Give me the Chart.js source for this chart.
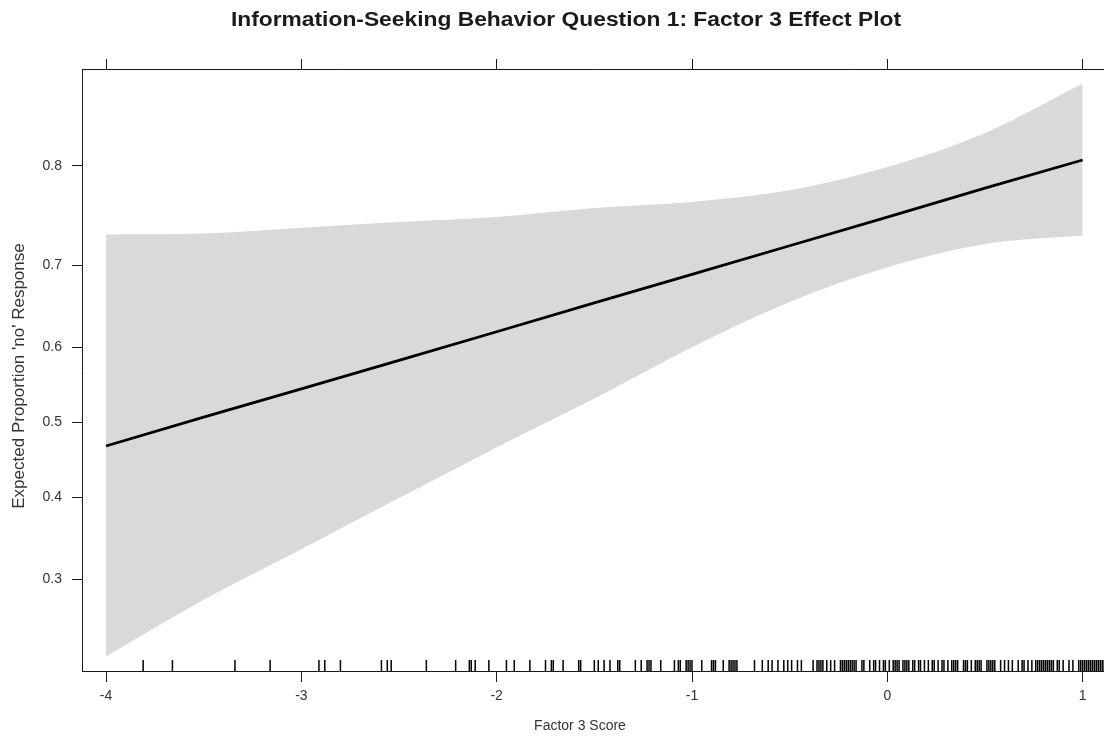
<!DOCTYPE html>
<html>
<head>
<meta charset="utf-8">
<title>Factor 3 Effect Plot</title>
<script src="https://cdn.jsdelivr.net/npm/chart.js@4.4.1/dist/chart.umd.min.js"></script>
<style>
  html, body { margin: 0; padding: 0; background: #fff; overflow: hidden; }
  #wrap { position: relative; width: 1120px; height: 742px; }
</style>
</head>
<body>
<div id="wrap"><canvas id="chart" width="1120" height="742"></canvas></div>
<script>
// Fitted effect of the factor 3 score (probability of a 'no' response)
const fitX     = [-4, -3.5, -3, -2.5, -2, -1.5, -1, -0.5, 0, 0.5, 1];
const fitProb  = [0.468, 0.507, 0.545, 0.583, 0.620, 0.656, 0.690, 0.722, 0.752, 0.780, 0.805];
// 95% confidence band
const bandUpper = [0.734, 0.735, 0.741, 0.747, 0.752, 0.761, 0.767, 0.778, 0.799, 0.827, 0.862];
const bandLower = [0.220, 0.277, 0.335, 0.399, 0.466, 0.532, 0.600, 0.657, 0.698, 0.724, 0.733];

// Observed factor 3 scores (rug)
const rugScores = [
  -3.81, -3.66, -3.34, -3.16, -2.91, -2.88, -2.80,
  -2.59, -2.56, -2.54, -2.36, -2.21, -2.14, -2.13, -2.11, -2.04, -1.95, -1.91, -1.83,
  -1.75, -1.72, -1.71, -1.66, -1.58, -1.57, -1.50, -1.48, -1.45, -1.42, -1.38, -1.37,
  -1.29, -1.26, -1.23, -1.22, -1.21, -1.16, -1.09, -1.07, -1.06, -1.03, -1.02, -1.01, -1.00,
  -0.95, -0.90, -0.89, -0.88, -0.84, -0.81, -0.80, -0.79, -0.78, -0.77,
  -0.68, -0.64, -0.61, -0.59, -0.56, -0.53, -0.51, -0.49, -0.46, -0.44,
  -0.38, -0.36, -0.35, -0.34, -0.33, -0.31, -0.29, -0.27, -0.24,
  -0.23, -0.22, -0.21, -0.20, -0.19, -0.18, -0.17, -0.16, -0.13, -0.12,
  -0.09, -0.07, -0.06, -0.04, -0.02, -0.01,
  0.01, 0.03, 0.04, 0.05, 0.06, 0.08, 0.09, 0.10, 0.11, 0.13, 0.14,
  0.16, 0.17, 0.19, 0.21, 0.23, 0.24, 0.26, 0.28, 0.29, 0.31, 0.33, 0.34, 0.35, 0.36,
  0.39, 0.40, 0.41, 0.43, 0.45, 0.46, 0.47, 0.48, 0.51, 0.52, 0.53, 0.54, 0.55,
  0.58, 0.60, 0.62, 0.64, 0.67, 0.69, 0.70, 0.72, 0.74,
  0.76, 0.77, 0.78, 0.79, 0.80, 0.81, 0.82, 0.83, 0.84, 0.85,
  0.87, 0.88, 0.90, 0.93, 0.95, 0.98, 0.99, 1.00, 1.01, 1.02, 1.03, 1.04,
  1.05, 1.06, 1.07, 1.08, 1.09, 1.10, 1.11
];

// Axis ticks and ranges
const xTicks = [-4, -3, -2, -1, 0, 1];
const xRange = [-4.123, 1.14];
const yTicks = [0.3, 0.4, 0.5, 0.6, 0.7, 0.8];
const yRange = [0.2068, 0.871];

const titleText  = 'Information-Seeking Behavior Question 1: Factor 3 Effect Plot';
const xAxisTitle = 'Factor 3 Score';
const yAxisTitle = "Expected Proportion 'no' Response";

// The response axis is drawn on the logit scale
const logit = p => Math.log(p / (1 - p));
const invLogit = v => 1 / (1 + Math.exp(-v));

const toPoints = (xs, ps) => xs.map((x, i) => ({ x: x, y: logit(ps[i]) }));

const FONT = "'Liberation Sans', Arial, sans-serif";
const INK = '#1a1a1a';

const rugPlugin = {
  id: 'rug',
  afterDatasetsDraw(chart) {
    const { ctx, chartArea, scales } = chart;
    ctx.save();
    ctx.strokeStyle = '#000';
    ctx.lineWidth = 1.5;
    ctx.beginPath();
    rugScores.forEach(v => {
      const px = scales.x.getPixelForValue(v);
      ctx.moveTo(px, chartArea.bottom);
      ctx.lineTo(px, chartArea.bottom - 11);
    });
    ctx.stroke();
    ctx.restore();
  }
};

const titlesPlugin = {
  id: 'titles',
  afterDraw(chart) {
    const { ctx } = chart;
    ctx.save();
    ctx.fillStyle = INK;
    ctx.textAlign = 'center';
    ctx.textBaseline = 'middle';
    // main title, set slightly wide
    ctx.save();
    ctx.font = 'bold 20px ' + FONT;
    ctx.translate(566, 20);
    ctx.scale(1.14, 1);
    ctx.fillText(titleText, 0, 0);
    ctx.restore();
    ctx.fillStyle = '#333';
    ctx.font = '14px ' + FONT;
    ctx.fillText(xAxisTitle, 580, 726);
    ctx.font = '17px ' + FONT;
    ctx.translate(19, 376);
    ctx.rotate(-Math.PI / 2);
    ctx.fillText(yAxisTitle, 0, 0);
    ctx.restore();
  }
};

new Chart(document.getElementById('chart'), {
  type: 'line',
  data: {
    datasets: [
      {
        label: 'fit',
        data: toPoints(fitX, fitProb),
        borderColor: '#000',
        borderWidth: 2.8,
        pointRadius: 0,
        fill: false,
        tension: 0
      },
      {
        label: 'upper',
        data: toPoints(fitX, bandUpper),
        borderWidth: 0,
        borderColor: 'rgba(0,0,0,0)',
        backgroundColor: '#d9d9d9',
        pointRadius: 0,
        fill: '+1',
        cubicInterpolationMode: 'monotone'
      },
      {
        label: 'lower',
        data: toPoints(fitX, bandLower),
        borderWidth: 0,
        borderColor: 'rgba(0,0,0,0)',
        pointRadius: 0,
        fill: false,
        cubicInterpolationMode: 'monotone'
      }
    ]
  },
  options: {
    responsive: false,
    animation: false,
    layout: { padding: { left: 0, right: 10, top: 0, bottom: 0 } },
    plugins: {
      legend: { display: false },
      tooltip: { enabled: false },
      title: { display: false }
    },
    scales: {
      x: {
        type: 'linear',
        position: 'bottom',
        min: xRange[0],
        max: xRange[1],
        afterBuildTicks: s => { s.ticks = xTicks.map(v => ({ value: v })); },
        afterFit: s => { s.height = 71; },
        ticks: {
          color: '#333',
          font: { family: FONT, size: 14 },
          padding: 6,
          maxRotation: 0,
          callback: v => String(v)
        },
        grid: { drawOnChartArea: false, color: INK, tickLength: 11, tickWidth: 1 },
        border: { display: true, color: INK, width: 1 }
      },
      x2: {
        type: 'linear',
        position: 'top',
        min: xRange[0],
        max: xRange[1],
        afterBuildTicks: s => { s.ticks = xTicks.map(v => ({ value: v })); },
        afterFit: s => { s.height = 69; },
        ticks: { callback: () => '', padding: 0 },
        grid: { drawOnChartArea: false, color: INK, tickLength: 10, tickWidth: 1 },
        border: { display: true, color: INK, width: 1 }
      },
      y: {
        type: 'linear',
        position: 'left',
        min: logit(yRange[0]),
        max: logit(yRange[1]),
        afterBuildTicks: s => { s.ticks = yTicks.map(p => ({ value: logit(p) })); },
        afterFit: s => { s.width = 82; },
        ticks: {
          color: '#333',
          font: { family: FONT, size: 14 },
          padding: 10,
          callback: v => invLogit(v).toFixed(1)
        },
        grid: { drawOnChartArea: false, color: INK, tickLength: 10, tickWidth: 1 },
        border: { display: true, color: INK, width: 1 }
      }
    }
  },
  plugins: [rugPlugin, titlesPlugin]
});
</script>
</body>
</html>
